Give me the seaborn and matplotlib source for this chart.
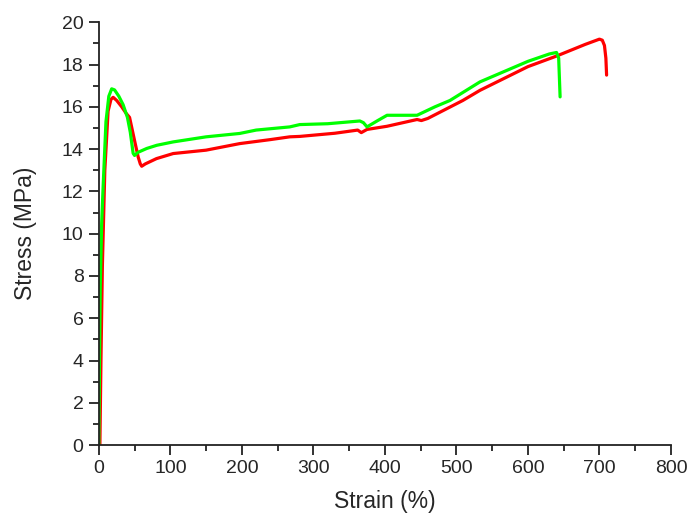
import numpy as np
import pandas as pd
import matplotlib
matplotlib.use("Agg")
import matplotlib.pyplot as plt
import seaborn as sns
from matplotlib.ticker import MultipleLocator

green_strain = [0, 1, 2, 4, 6, 10, 14, 18, 22, 28, 34, 40, 44, 48, 50, 55, 67, 81, 104, 150, 197,
                220, 267, 281, 320, 365, 370, 375, 390, 403, 445, 470, 491, 533, 600, 630, 640, 643, 645]
green_stress = [0, 4, 7.5, 10.5, 12.2, 15.3, 16.5, 16.85, 16.8, 16.5, 16.1, 15.5, 14.8, 13.8, 13.7,
                13.85, 14.03, 14.18, 14.34, 14.58, 14.74, 14.9, 15.05, 15.16, 15.2, 15.33, 15.25, 15.05,
                15.35, 15.6, 15.6, 16.0, 16.3, 17.18, 18.15, 18.5, 18.57, 18.3, 16.47]

red_strain = [1.5, 3, 5, 8.4, 13, 17, 20, 25, 32, 38, 43, 50, 55, 58, 60, 65, 80.6, 104, 150, 197,
              240, 267, 281, 330, 362, 367, 375, 403, 445, 451, 460, 509, 533, 600, 640, 680, 700,
              704, 707, 709, 710]
red_stress = [0, 4, 8.5, 13.0, 15.8, 16.35, 16.45, 16.3, 16.0, 15.7, 15.5, 14.4, 13.63, 13.3, 13.19,
              13.3, 13.55, 13.79, 13.95, 14.26, 14.45, 14.58, 14.6, 14.75, 14.9, 14.78, 14.93, 15.08,
              15.4, 15.35, 15.45, 16.3, 16.78, 17.9, 18.4, 18.95, 19.2, 19.15, 18.9, 18.3, 17.5]

df = pd.concat([
    pd.DataFrame({"strain": red_strain, "stress": red_stress, "sample": "red"}),
    pd.DataFrame({"strain": green_strain, "stress": green_stress, "sample": "green"}),
], ignore_index=True)

sns.set_style("white")
plt.rcParams["font.family"] = ["Liberation Sans", "DejaVu Sans"]

fig = plt.figure(figsize=(6.91, 5.17), dpi=100)
ax = fig.add_axes([0.143, 0.139, 0.828, 0.818])

sns.lineplot(data=df, x="strain", y="stress", hue="sample", units="sample", estimator=None,
             sort=False, palette={"red": "#ff0000", "green": "#00ff00"}, linewidth=2.3,
             legend=False, ax=ax)

ax.set_xlim(0, 800)
ax.set_ylim(0, 20)
ax.xaxis.set_major_locator(MultipleLocator(100))
ax.xaxis.set_minor_locator(MultipleLocator(50))
ax.yaxis.set_major_locator(MultipleLocator(2))
ax.yaxis.set_minor_locator(MultipleLocator(1))
for s in ["top", "right"]:
    ax.spines[s].set_visible(False)
for s in ["left", "bottom"]:
    ax.spines[s].set_linewidth(1.3)
    ax.spines[s].set_color("#222222")
ax.tick_params(which="major", direction="out", length=7, width=1.3, color="#222222",
               labelsize=14, pad=4, left=True, bottom=True)
ax.tick_params(which="minor", direction="out", length=4, width=1.3, color="#222222",
               left=True, bottom=True)
ax.set_xlabel("Strain (%)", fontsize=16.5, labelpad=9)
ax.set_ylabel("Stress (MPa)", fontsize=16.5, labelpad=18)

fig.savefig("out.png", dpi=100)
